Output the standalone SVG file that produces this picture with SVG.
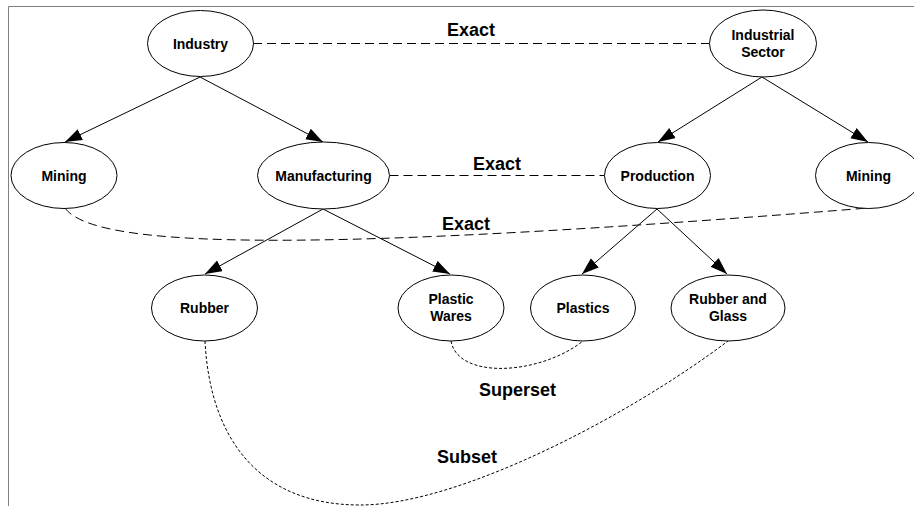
<svg xmlns="http://www.w3.org/2000/svg" width="914" height="506" viewBox="0 0 914 506">
<defs>
<style>
.node ellipse{fill:#fff;stroke:#000;stroke-width:1}
.node text{font-family:"Liberation Sans",Arial,sans-serif;font-weight:bold;font-size:14px;text-anchor:middle;fill:#000}
.lbl{font-family:"Liberation Sans",Arial,sans-serif;font-weight:bold;font-size:18px;fill:#000}
.arrow{stroke:#000;stroke-width:1;fill:none;marker-end:url(#ah)}
.exact{stroke:#000;stroke-width:1;fill:none;stroke-dasharray:9 5}
.dot{stroke:#000;stroke-width:1;fill:none;stroke-dasharray:3 2}
</style>
<marker id="ah" markerUnits="userSpaceOnUse" markerWidth="18" markerHeight="13" refX="17" refY="6" orient="auto">
<path d="M0,0 L17,6 L0,12 z" fill="#000"/>
</marker>
</defs>
<rect width="914" height="506" fill="#fff"/>
<path d="M8.5,506 V6.5 H914" fill="none" stroke="#808080" stroke-width="1"/>
<g id="connectors">
<path class="arrow" d="M200,77 L65,142"/>
<path class="arrow" d="M200,77 L323,142"/>
<path class="arrow" d="M762,77 L658,142"/>
<path class="arrow" d="M762,77 L868,142"/>
<path class="arrow" d="M323,209 L205,274"/>
<path class="arrow" d="M323,209 L450,274"/>
<path class="arrow" d="M657,209 L582,274"/>
<path class="arrow" d="M657,209 L727,274"/>
<path class="exact" d="M253,43.5 H709"/>
<path class="exact" d="M389.5,175.5 H604.5"/>
<path class="exact" d="M65,208 C95,250 320,252 868,208"/>
<path class="dot" d="M451,341 C458,380 540,375 583,341"/>
<path class="dot" d="M205,341 C210,440 260,505 360,505 C460,505 630,415 728,341"/>
<text class="lbl" x="447" y="36">Exact</text>
<text class="lbl" x="473" y="170">Exact</text>
<text class="lbl" x="442" y="230">Exact</text>
<text class="lbl" x="479" y="396">Superset</text>
<text class="lbl" x="437" y="463">Subset</text>
</g>
<g id="n-industry" class="node"><ellipse cx="200.5" cy="43.5" rx="53" ry="33"/><text x="200.5" y="48.5">Industry</text></g>
<g id="n-mining-left" class="node"><ellipse cx="64" cy="175.5" rx="53" ry="33"/><text x="64" y="180.5">Mining</text></g>
<g id="n-manufacturing" class="node"><ellipse cx="323.5" cy="175.5" rx="66" ry="33.5"/><text x="323.5" y="180.5">Manufacturing</text></g>
<g id="n-industrial-sector" class="node"><ellipse cx="763" cy="43.5" rx="53.5" ry="33.5"/><text x="763" y="39.5">Industrial</text><text x="763" y="56.5">Sector</text></g>
<g id="n-production" class="node"><ellipse cx="657.5" cy="175.5" rx="53" ry="33"/><text x="657.5" y="180.5">Production</text></g>
<g id="n-mining-right" class="node"><ellipse cx="868.5" cy="175.5" rx="53" ry="33"/><text x="868.5" y="180.5">Mining</text></g>
<g id="n-rubber" class="node"><ellipse cx="204.5" cy="308" rx="53" ry="33"/><text x="204.5" y="313">Rubber</text></g>
<g id="n-plastic-wares" class="node"><ellipse cx="451" cy="308" rx="53" ry="33"/><text x="451" y="304">Plastic</text><text x="451" y="321">Wares</text></g>
<g id="n-plastics" class="node"><ellipse cx="583" cy="308" rx="52.5" ry="33"/><text x="583" y="313">Plastics</text></g>
<g id="n-rubber-glass" class="node"><ellipse cx="728" cy="308" rx="57" ry="33"/><text x="728" y="304">Rubber and</text><text x="728" y="321">Glass</text></g>
</svg>
